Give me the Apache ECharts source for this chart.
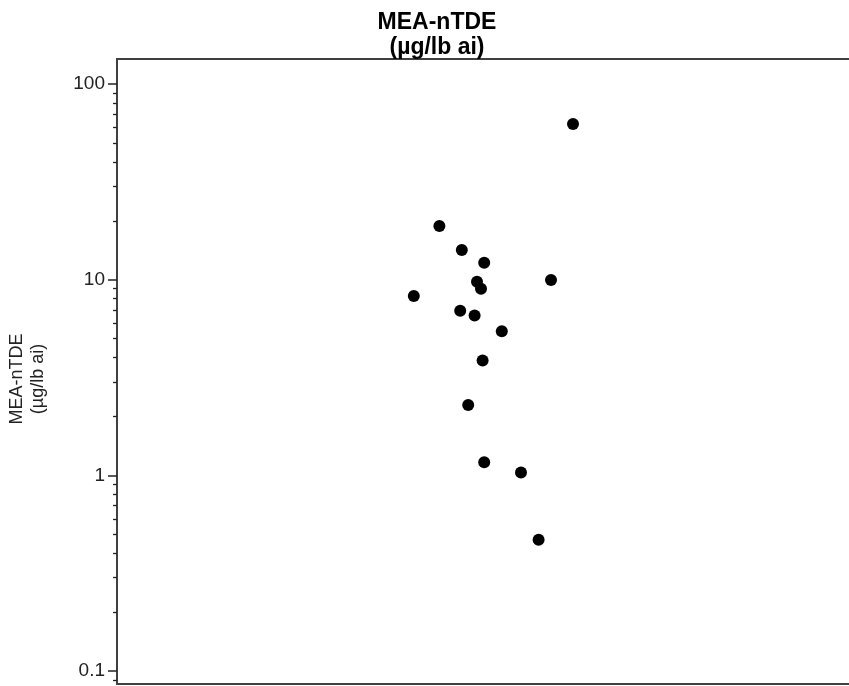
<!DOCTYPE html>
<html>
<head>
<meta charset="utf-8">
<script src="https://cdn.jsdelivr.net/npm/echarts@6/dist/echarts.min.js"></script>
<style>html,body{margin:0;padding:0;background:#fff}#c{width:849px;height:686px}</style>
</head>
<body>
<div id="c"></div>
<script>
// Jitter position (horizontal, arbitrary units 0-100) of each observation
const xJitter = [40.3, 43.1, 45.9, 45.0, 45.5, 54.25, 37.1, 42.9, 44.7, 48.1, 45.7, 43.9, 45.9, 50.5, 52.7, 57.0];
// MEA-nTDE values (µg/lb ai)
const values  = [18.8, 14.2, 12.2, 9.76, 8.99, 9.96, 8.25, 6.94, 6.57, 5.45, 3.87, 2.29, 1.167, 1.035, 0.469, 62.5];
// Axis ticks
const majorTicks = [0.1, 1, 10, 100];
const majorLabels = ['0.1', '1', '10', '100'];
const minorTicks = [0.09, 0.2, 0.3, 0.4, 0.5, 0.6, 0.7, 0.8, 0.9, 2, 3, 4, 5, 6, 7, 8, 9, 20, 30, 40, 50, 60, 70, 80, 90];
const yMin = 0.0859;
const yMax = 134.3;

const FONT = '"Liberation Sans", Arial, sans-serif';
const chart = echarts.init(document.getElementById('c'), null, {renderer: 'canvas'});
const points = xJitter.map((x, i) => [x, values[i]]);

chart.setOption({
  animation: false,
  backgroundColor: '#fff',
  title: {
    text: 'MEA-nTDE\n(µg/lb ai)',
    left: 432,
    textAlign: 'center',
    top: 5,
    textStyle: {fontFamily: FONT, fontSize: 23, fontWeight: 'bold', color: '#000', lineHeight: 25}
  },
  grid: {
    left: 117, top: 59, bottom: 2, width: 800,
    show: true, borderColor: '#404040', borderWidth: 2,
    containLabel: false, outerBoundsMode: 'none'
  },
  xAxis: {type: 'value', min: 0, max: 100, show: false},
  yAxis: [
    {
      type: 'log', logBase: 10, min: yMin, max: yMax, position: 'left',
      name: 'MEA-nTDE\n(µg/lb ai)', nameLocation: 'middle', nameRotate: 90, nameGap: 68,
      nameTextStyle: {fontFamily: FONT, fontSize: 18, color: '#222', lineHeight: 21, padding: [0, 15, 0, 0]},
      axisLine: {show: false},
      axisTick: {show: true, length: 9, customValues: majorTicks, lineStyle: {color: '#222', width: 1.5}},
      axisLabel: {
        customValues: majorTicks, margin: 12,
        fontFamily: FONT, fontSize: 19, color: '#222',
        formatter: v => { const i = majorTicks.findIndex(t => Math.abs(t - v) / t < 1e-6); return i >= 0 ? majorLabels[i] : ''; }
      },
      splitLine: {show: false}
    },
    {
      type: 'log', logBase: 10, min: yMin, max: yMax, position: 'left',
      axisLine: {show: false},
      axisTick: {show: true, length: 4, customValues: minorTicks, lineStyle: {color: '#222', width: 1.3}},
      axisLabel: {show: false},
      splitLine: {show: false}
    }
  ],
  series: [{
    type: 'scatter',
    yAxisIndex: 0,
    data: points,
    symbol: 'circle',
    symbolSize: 12,
    itemStyle: {color: '#000', opacity: 1}
  }]
});
</script>
</body>
</html>
